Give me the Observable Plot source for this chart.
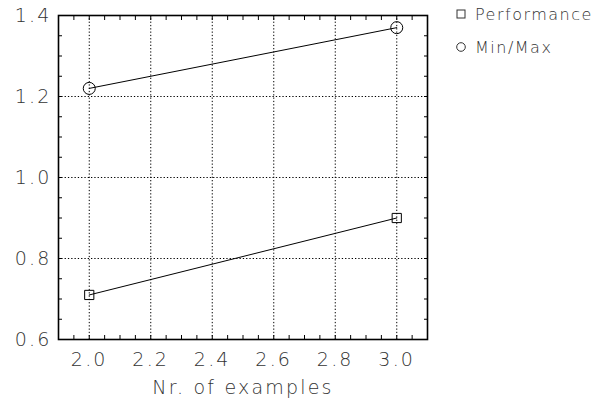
<!DOCTYPE html>
<html>
<head>
<meta charset="utf-8">
<script src="https://cdn.jsdelivr.net/npm/d3@7"></script>
<script src="https://cdn.jsdelivr.net/npm/@observablehq/plot@0.6"></script>
<style>
  html, body { margin: 0; padding: 0; background: #fff; }
  #wrap { position: relative; width: 615px; height: 406px; }
  #legend { position: absolute; left: 455px; top: 3px; font-family: "DejaVu Sans", sans-serif; font-weight: 200; font-size: 16px; letter-spacing: 1.5px; color: #333; }
  #legend .row { display: flex; align-items: center; height: 22px; margin-bottom: 11px; }
  #legend svg { margin-right: 8px; }
</style>
</head>
<body>
<div id="wrap"><div id="legend"></div></div>
<script>
const xValues = [2.0, 3.0];
const performance = [0.71, 0.90];
const minMax = [1.22, 1.37];
const seriesNames = ["Performance", "Min/Max"];
const seriesSymbols = ["square", "circle"];
const xTicks = [2.0, 2.2, 2.4, 2.6, 2.8, 3.0];
const yTicks = [0.6, 0.8, 1.0, 1.2, 1.4];
const xDomain = [1.9, 3.1];
const yDomain = [0.6, 1.4];

const perfData = xValues.map((x, i) => ({x, y: performance[i], series: seriesNames[0]}));
const minMaxData = xValues.map((x, i) => ({x, y: minMax[i], series: seriesNames[1]}));
const xMinor = d3.range(38, 63).map(k => k * 0.05);
const yMinor = d3.range(12, 29).map(k => k * 0.05);
const textFill = "#333";

const chart = Plot.plot({
  width: 615,
  height: 406,
  marginLeft: 58,
  marginTop: 15,
  marginRight: 188,
  marginBottom: 67,
  style: {fontFamily: "DejaVu Sans, sans-serif", fontSize: "19px", fontWeight: 200, letterSpacing: "2.2px", background: "#fff"},
  x: {domain: xDomain},
  y: {domain: yDomain},
  marks: [
    Plot.gridX(xTicks.filter(d => d > 1.95 && d < 3.05), {stroke: "black", strokeOpacity: 1, strokeDasharray: "1.3,2"}),
    Plot.gridY(yTicks.filter(d => d > 0.65 && d < 1.35), {stroke: "black", strokeOpacity: 1, strokeDasharray: "1.3,2"}),
    Plot.axisX(xMinor, {tickSize: -4, text: null, label: null, stroke: "black"}),
    Plot.axisX(xMinor, {anchor: "top", tickSize: -4, text: null, label: null, stroke: "black"}),
    Plot.axisY(yMinor, {tickSize: -4, text: null, label: null, stroke: "black"}),
    Plot.axisY(yMinor, {anchor: "right", tickSize: -4, text: null, label: null, stroke: "black"}),
    Plot.axisX(xTicks, {tickSize: 0, tickPadding: 13, tickFormat: d3.format(".1f"), fill: textFill, label: "Nr. of examples", labelAnchor: "center", labelOffset: 54, labelArrow: "none"}),
    Plot.axisY(yTicks, {tickSize: 0, tickPadding: 7, tickFormat: d3.format(".1f"), fill: textFill, label: null}),
    Plot.frame({stroke: "black", strokeWidth: 1.6}),
    Plot.line(perfData, {x: "x", y: "y", stroke: "black", strokeWidth: 1}),
    Plot.line(minMaxData, {x: "x", y: "y", stroke: "black", strokeWidth: 1}),
    Plot.dot(perfData, {x: "x", y: "y", symbol: "square", r: 5.2, stroke: "black", strokeWidth: 1, fill: "none"}),
    Plot.dot(minMaxData, {x: "x", y: "y", symbol: "circle", r: 6, stroke: "black", strokeWidth: 1, fill: "none"})
  ]
});
document.getElementById("wrap").prepend(chart);

const legend = d3.select("#legend");
seriesNames.forEach((name, i) => {
  const row = legend.append("div").attr("class", "row");
  const s = row.append("svg").attr("width", 12).attr("height", 12);
  if (seriesSymbols[i] === "square") {
    s.append("rect").attr("x", 2).attr("y", 2).attr("width", 8).attr("height", 8).attr("fill", "none").attr("stroke", "#333").attr("stroke-width", 1);
  } else {
    s.append("circle").attr("cx", 6).attr("cy", 6).attr("r", 4.3).attr("fill", "none").attr("stroke", "#333").attr("stroke-width", 1);
  }
  row.append("span").text(name);
});
</script>
</body>
</html>
